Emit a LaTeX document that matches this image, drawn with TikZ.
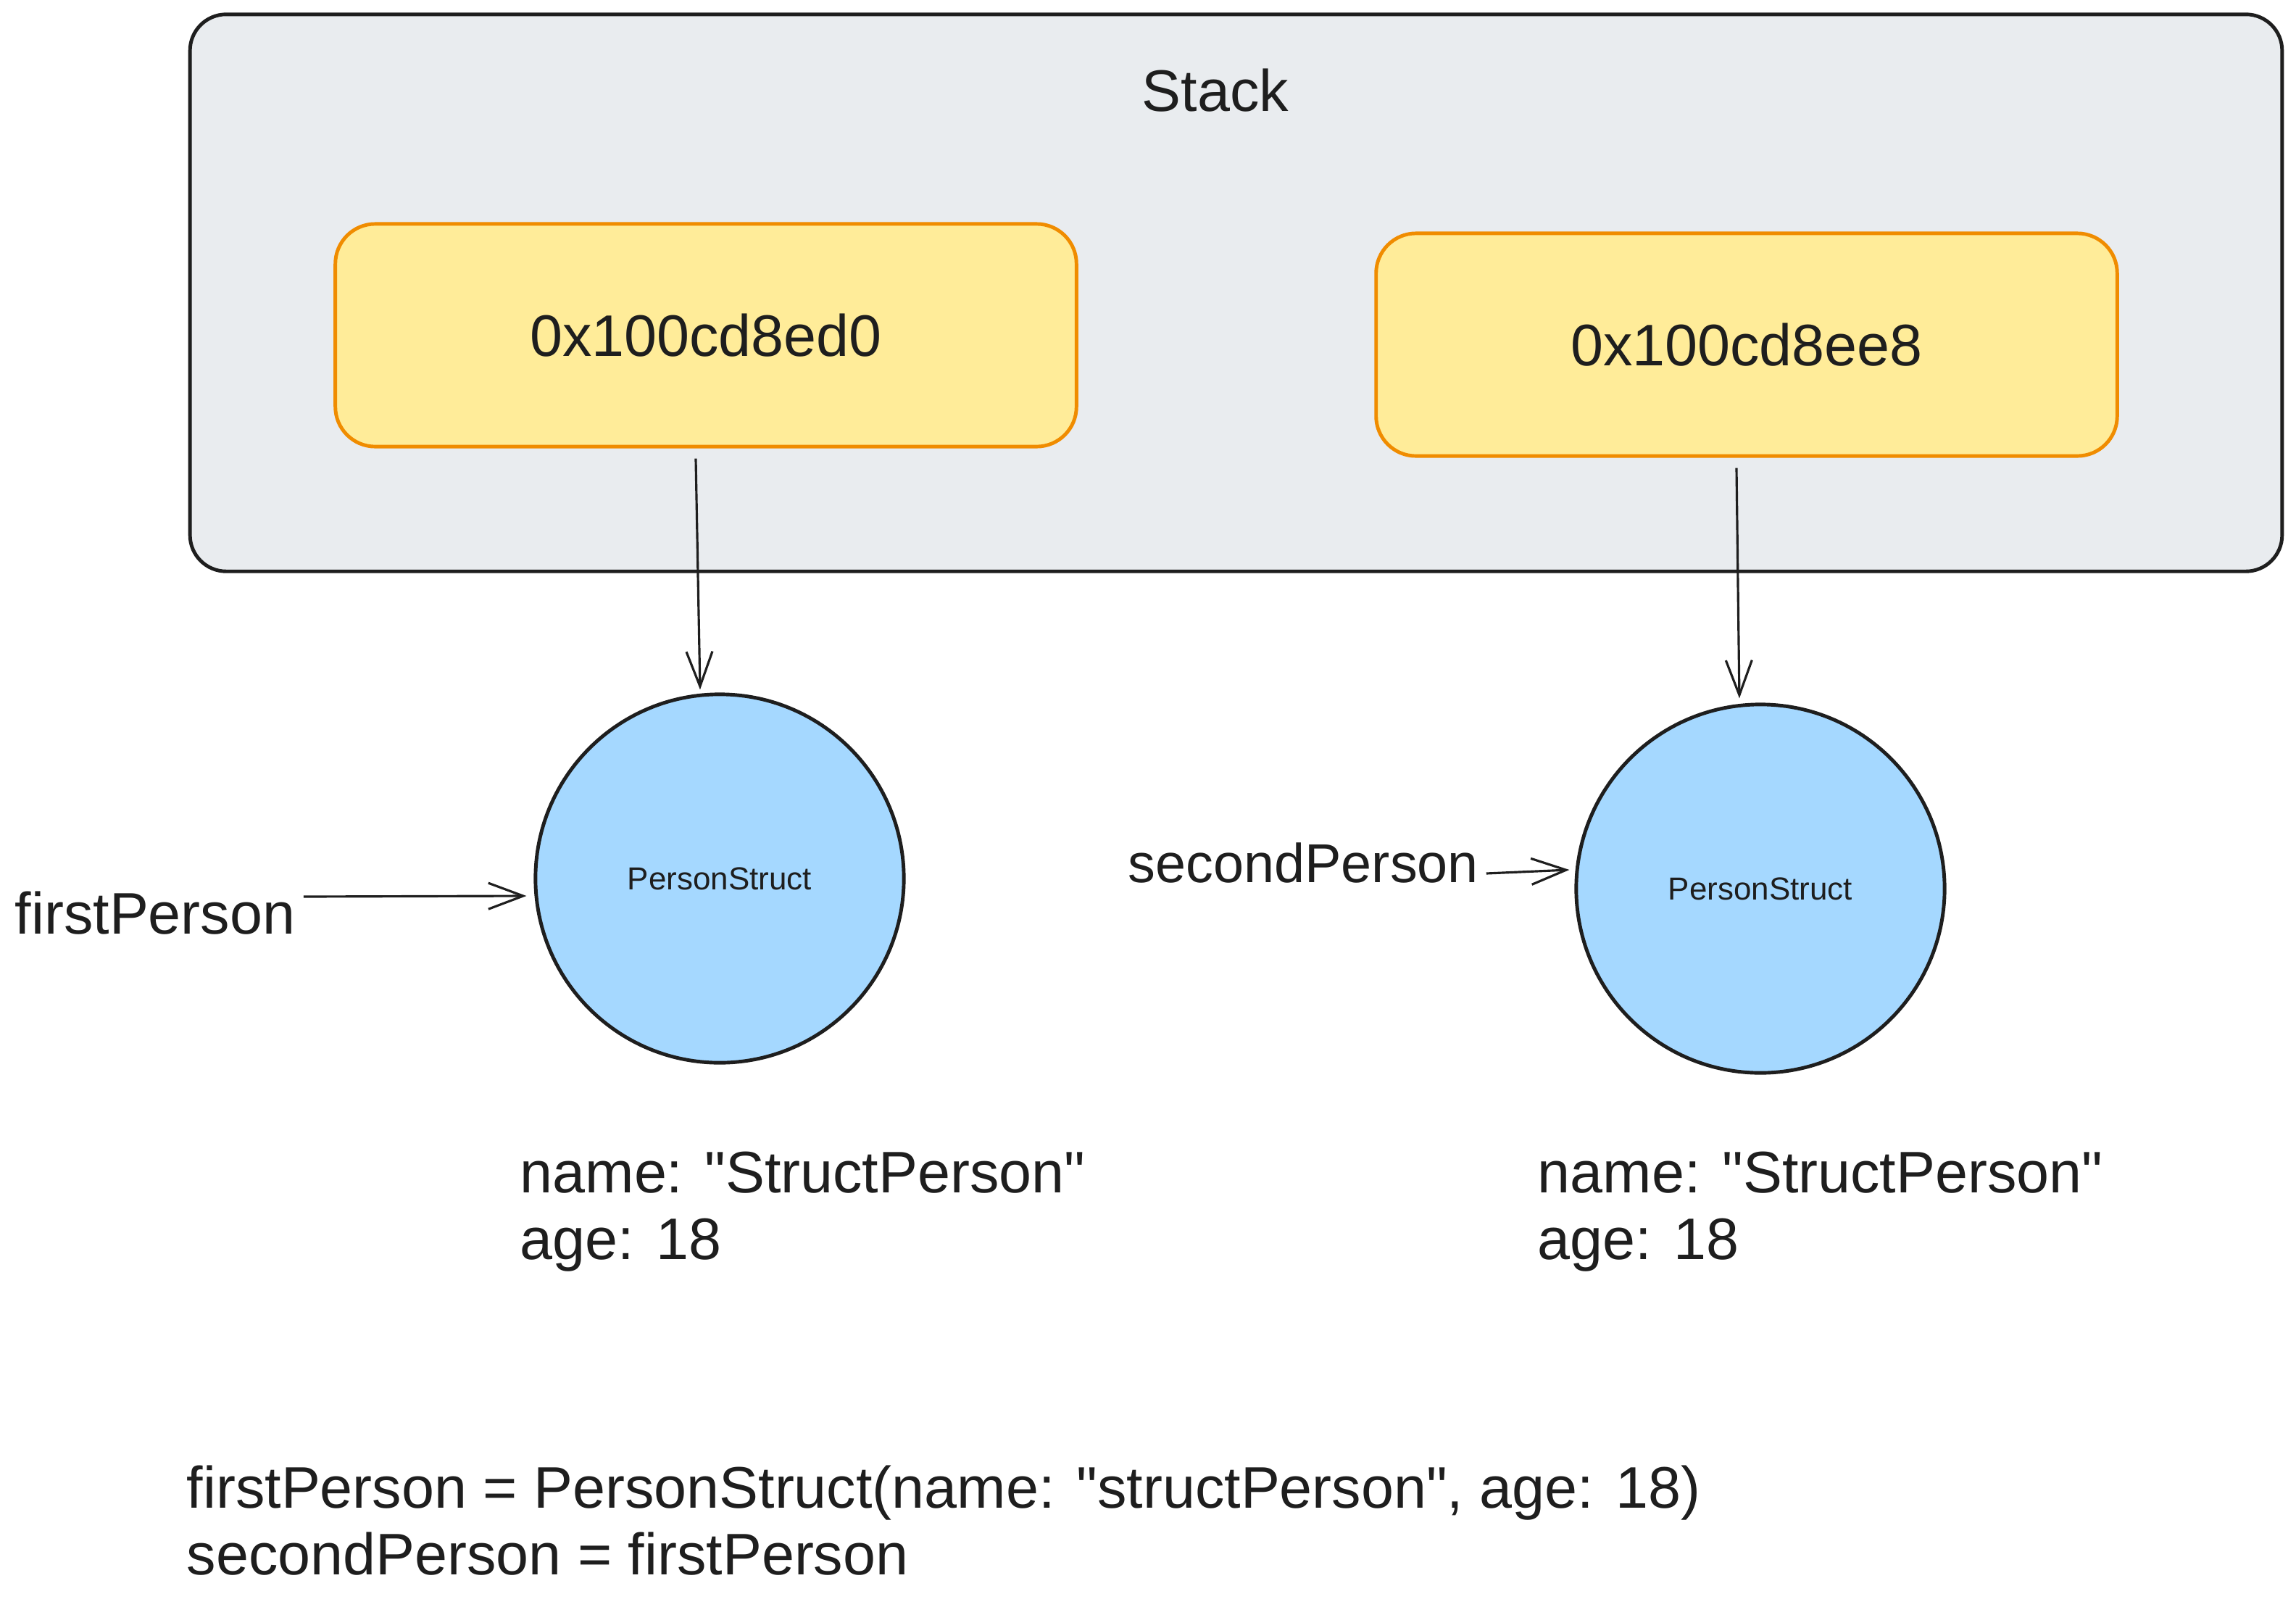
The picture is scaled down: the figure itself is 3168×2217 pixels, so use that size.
\documentclass[tikz,border=0pt]{standalone}
\usepackage{fontspec}
\setmainfont{Liberation Sans}[Ligatures=TeXOff]
\usetikzlibrary{arrows.meta,positioning}

\definecolor{ink}{HTML}{1E1E1E}
\definecolor{stackgray}{HTML}{E9ECEF}
\definecolor{addrfill}{HTML}{FFEC99}
\definecolor{addrline}{HTML}{F08C00}
\definecolor{objfill}{HTML}{A5D8FF}

\begin{document}
\begin{tikzpicture}[
    x=0.01cm, y=-0.01cm,
    stackbox/.style={draw=ink, fill=stackgray, rounded corners=0.5cm, line width=1.4pt, minimum width=28.85cm, minimum height=7.68cm},
    addr/.style={draw=addrline, fill=addrfill, rounded corners=0.55cm, line width=1.4pt, minimum width=10.22cm, minimum height=3.07cm, text=ink, font=\fontsize{23}{28}\selectfont},
    obj/.style={circle, draw=ink, fill=objfill, line width=1.4pt, minimum size=5.08cm, inner sep=0pt, text=ink, font=\fontsize{12.5}{15}\selectfont},
    txt/.style={text=ink, inner sep=0pt, align=left, font=\fontsize{23}{25.9}\selectfont},
    link/.style={-{Straight Barb[length=4.8mm, width=3.6mm]}, line width=0.9pt, draw=ink}
]
\useasboundingbox (0,0) rectangle (3168,2217);

% stack frame
\node[stackbox] (stack) at (1705.5,404) {};
\node[txt] (stacklbl) at (1677,125) {Stack};
\node[addr] (mem1) at (974,462.5) {0x100cd8ed0};
\node[addr] (mem2) at (2410,475.5) {0x100cd8ee8};

% instances
\node[obj] (obj1) at (993,1212) {PersonStruct};
\node[obj] (obj2) at (2429,1226) {PersonStruct};
\node[txt, anchor=base west] (var1) at (20,1288) {firstPerson};
\node[txt, anchor=base west, font=\fontsize{21.5}{25.9}\selectfont] (var2) at (1556,1217) {secondPerson};
\node[txt, anchor=base west] (fields1) at (717,1737) {name: "StructPerson"\\age: 18};
\node[txt, anchor=base west] (fields2) at (2121,1737) {name: "StructPerson"\\age: 18};

\draw[link] ([xshift=-0.14cm, yshift=-0.14cm]mem1.south) -- ([xshift=-0.27cm, yshift=0.04cm]obj1.north);
\draw[link] ([xshift=-0.14cm, yshift=-0.14cm]mem2.south) -- ([xshift=-0.29cm, yshift=0.06cm]obj2.north);
\draw[link] ([xshift=0.11cm]var1.east |- 0,1237) -- ([xshift=-0.1cm]obj1.west |- 0,1236);
\draw[link] ([xshift=0.1cm]var2.east |- 0,1205) -- ([xshift=-0.07cm]obj2.west |- 0,1200);

% code
\node[txt, anchor=base west] (code) at (257,2172) {firstPerson = PersonStruct(name: "structPerson", age: 18)\\secondPerson = firstPerson};
\end{tikzpicture}
\end{document}
